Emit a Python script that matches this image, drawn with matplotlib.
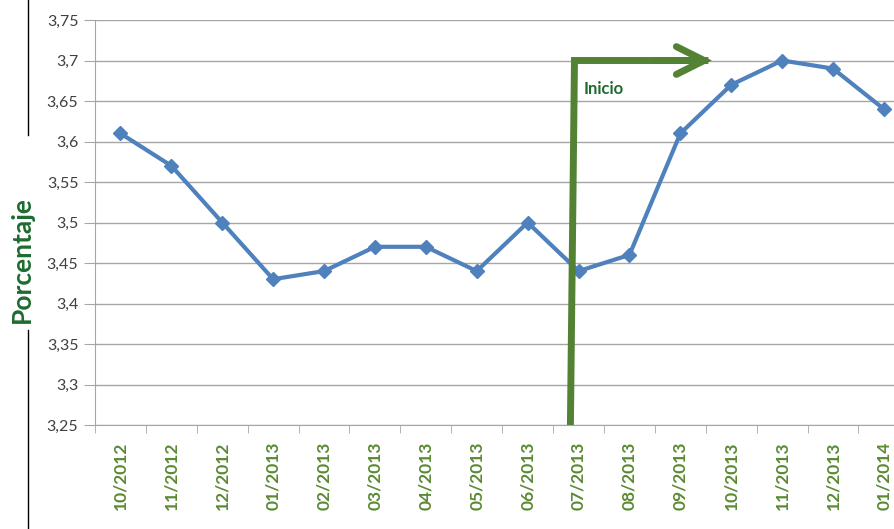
import numpy as np
import matplotlib.pyplot as plt
from matplotlib.patches import Rectangle

meses = ['10/2012', '11/2012', '12/2012', '01/2013', '02/2013', '03/2013',
         '04/2013', '05/2013', '06/2013', '07/2013', '08/2013', '09/2013',
         '10/2013', '11/2013', '12/2013', '01/2014']
porcentaje = [3.61, 3.57, 3.50, 3.43, 3.44, 3.47, 3.47, 3.44, 3.50, 3.44,
              3.46, 3.61, 3.67, 3.70, 3.69, 3.64]
yticks = [3.25, 3.30, 3.35, 3.40, 3.45, 3.50, 3.55, 3.60, 3.65, 3.70, 3.75]

plt.rcParams['font.family'] = ['Lato', 'DejaVu Sans']

fig = plt.figure(figsize=(8.95, 5.29), dpi=100)
ax = fig.add_axes([95/895, 1-425/529, 16*50.9/895, 405/529])

x = np.arange(len(meses))
ax.plot(x, porcentaje, color='#4f81bd', lw=3, marker='D', ms=7,
        markerfacecolor='#4f81bd', markeredgecolor='#4f81bd', zorder=3)

ax.set_xlim(-0.5, len(meses)-0.5)
ax.set_ylim(3.25, 3.75)
ax.set_yticks(yticks)
ax.set_yticklabels([('%g' % v).replace('.', ',') for v in yticks],
                   fontsize=11.5, color='#404040')
ax.yaxis.grid(True, color='#a6a6a6', lw=1)
ax.set_axisbelow(True)

ax.set_xticks(x)
ax.set_xticklabels(meses, rotation=90, fontsize=12.5, fontweight='bold',
                   color='#5a8a32')
ax.set_xticks(np.arange(-0.5, len(meses)), minor=True)
ax.tick_params(axis='x', which='major', length=0, pad=12)
ax.tick_params(axis='x', which='minor', length=6, color='#a6a6a6')
ax.tick_params(axis='y', length=8, color='#a6a6a6', pad=4)

for s in ['top', 'right']:
    ax.spines[s].set_visible(False)
ax.spines['left'].set_color('#a6a6a6')
ax.spines['bottom'].set_color('#a6a6a6')

# flecha "Inicio"
verde = '#548235'
ax.add_patch(Rectangle((8.98, 3.6525), 2.45, 0.038, facecolor='white',
                       edgecolor='none', zorder=5))
ax.text(9.1, 3.659, 'Inicio', fontsize=12, fontweight='bold',
        color='#1e6b30', zorder=6)
ax.plot([8.84, 8.92, 11.55], [3.25, 3.70, 3.70], color=verde, lw=5,
        solid_capstyle='butt', solid_joinstyle='miter', zorder=7)
ax.annotate('', xy=(11.62, 3.70), xytext=(10.5, 3.70),
            arrowprops=dict(arrowstyle='->,head_length=1.0,head_width=0.5',
                            mutation_scale=20, color=verde, lw=5,
                            shrinkA=0, shrinkB=0, joinstyle='miter'),
            zorder=7)

# borde izquierdo
fig.add_artist(plt.Line2D([28/895, 28/895], [1, 1-135/529], color='black', lw=1))
fig.add_artist(plt.Line2D([28/895, 28/895], [1-330/529, 0], color='black', lw=1))
fig.text(22/895, 1-260/529, 'Porcentaje', rotation=90, fontsize=19,
         fontweight='bold', color='#1e6b30', ha='center', va='center')

fig.savefig('out.png', dpi=100)
